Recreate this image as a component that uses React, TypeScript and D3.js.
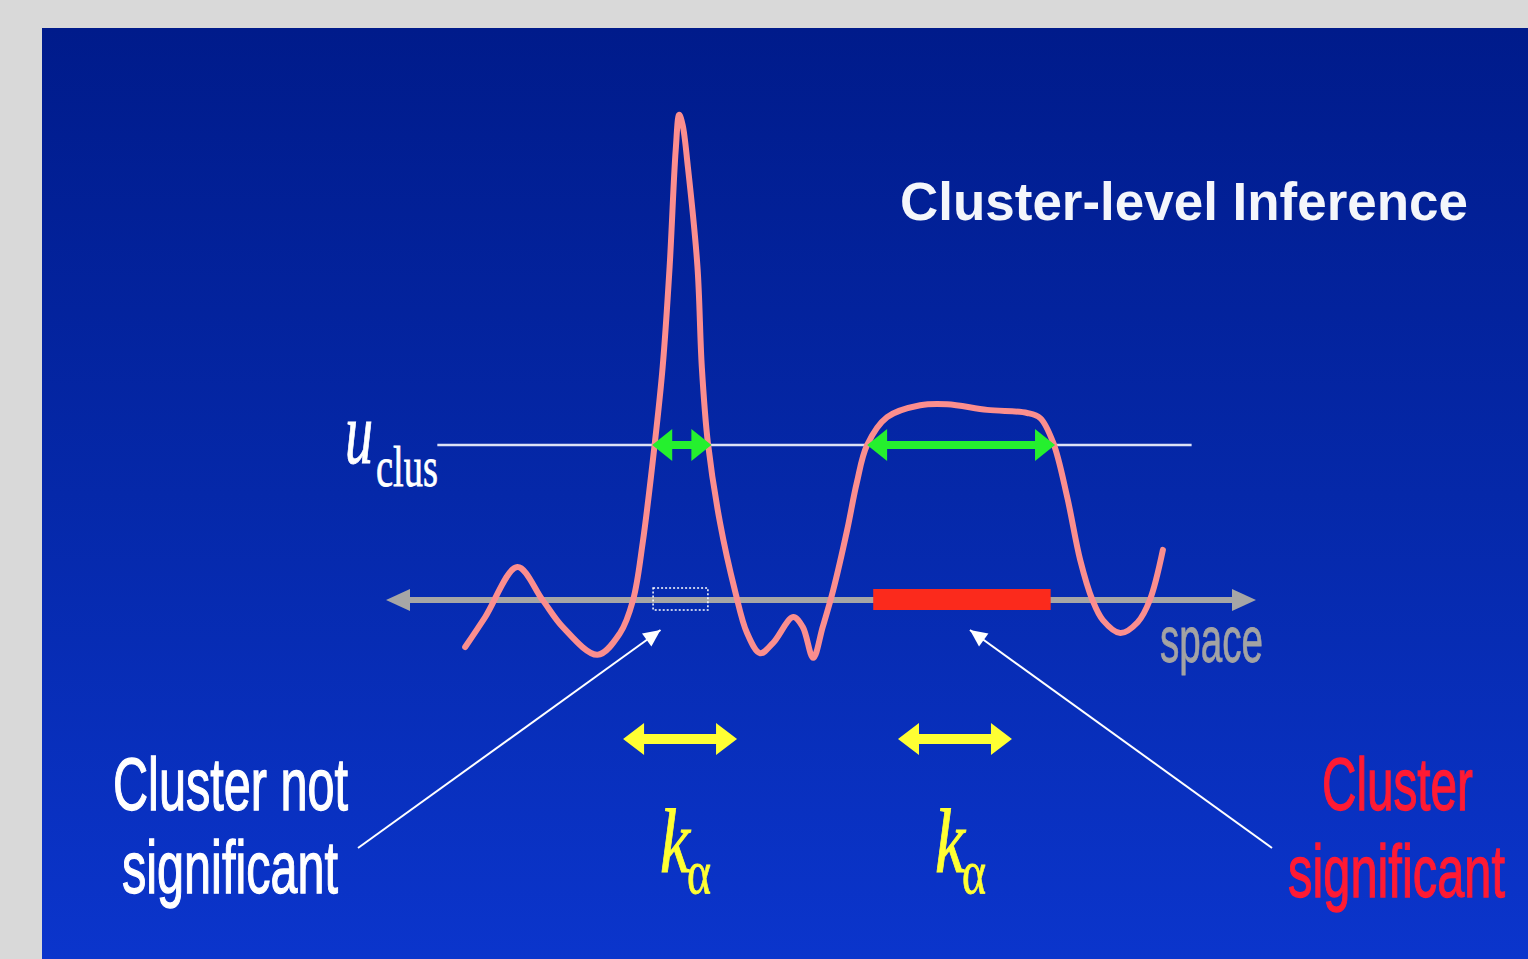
import * as d3 from "d3";

// signal profile along "space" (space units, signal units)
const profileSpace = [9.1, 11.4, 15.1, 18.0, 20.3, 24.3, 26.9, 28.4, 29.5, 30.9, 31.8, 32.6, 33.3, 33.7, 34.1, 34.7, 35.8, 36.3, 37.0, 38.4, 40.1, 41.5, 43.0, 44.5, 46.8, 47.9, 49.1, 50.2, 51.4, 53.0, 54.1, 55.3, 57.6, 61.4, 64.5, 69.1, 73.7, 75.2, 76.7, 78.3, 79.8, 81.2, 82.4, 84.4, 86.4, 87.8, 89.3];
const profileSignal = [-0.91, -0.33, 0.64, 0, -0.52, -1.06, -0.64, 0, 1.1, 3.04, 4.51, 6.45, 8.71, 9.39, 9.19, 8.38, 6.45, 4.51, 3.04, 1.49, 0.19, -0.64, -1.03, -0.83, -0.33, -0.52, -1.12, -0.52, 0.19, 1.35, 2.26, 3.0, 3.54, 3.77, 3.79, 3.68, 3.62, 3.52, 3.04, 1.99, 0.77, 0, -0.39, -0.64, -0.43, 0, 0.97];

const uClus = 3;
const thresholdSpan = [5.9, 92.6];
const clusterStart = [30.6, 55.3];
const clusterEnd = [37.4, 76.9];
const clusterSignificant = [false, true];
const markStart = [30.7, 56.0];
const markEnd = [37.0, 76.4];
const kAlphaCenters = [33.8, 65.4];
const kAlpha = 13.1;
const kAlphaLevel = -2.69;

const W = 1528;
const H = 959;

function doubleArrow(x1: number, x2: number, y: number, t: number, h: number, w: number) {
  const p: [number, number][] = [
    [x1, y], [x1 + h, y - w], [x1 + h, y - t], [x2 - h, y - t], [x2 - h, y - w],
    [x2, y], [x2 - h, y + w], [x2 - h, y + t], [x1 + h, y + t], [x1 + h, y + w],
  ];
  return p.map(d => d.join(",")).join(" ");
}

export default function App() {
  const x = d3.scaleLinear().domain([0, 100]).range([386, 1256]);
  const y = d3.scaleLinear().domain([0, uClus]).range([600, 445]);
  const pts = profileSpace.map((s, i) => [s, profileSignal[i]] as [number, number]);
  const line = d3.line<[number, number]>().x(d => x(d[0])).y(d => y(d[1])).curve(d3.curveCatmullRom.alpha(0.5));
  const y0 = y(0);
  const sans = "'Liberation Sans', Arial, sans-serif";
  const serif = "'Liberation Serif', 'Times New Roman', serif";

  const tipL: [number, number] = [x((markStart[0] + markEnd[0]) / 2) - 20, y0 + 30];
  const tipR: [number, number] = [x((markStart[1] + markEnd[1]) / 2) + 8, y0 + 30];
  const head = (from: [number, number], to: [number, number]) => {
    const a = Math.atan2(to[1] - from[1], to[0] - from[0]);
    const L = 17, w = 8;
    const bx = to[0] - L * Math.cos(a), by = to[1] - L * Math.sin(a);
    return [[to[0], to[1]], [bx + w * Math.sin(a), by - w * Math.cos(a)], [bx - w * Math.sin(a), by + w * Math.cos(a)]]
      .map(d => d.join(",")).join(" ");
  };
  const startL: [number, number] = [358, 848];
  const startR: [number, number] = [1272, 848];

  return (
    <div style={{ position: "fixed", left: 0, top: 0, width: W, height: H }}>
      <svg width={W} height={H} style={{ display: "block" }}>
        <defs>
          <linearGradient id="bg" x1="0" y1="0" x2="0" y2="1">
            <stop offset="0" stopColor="#001b8b" />
            <stop offset="0.5" stopColor="#0528a9" />
            <stop offset="1" stopColor="#0b35cc" />
          </linearGradient>
        </defs>
        <rect width={W} height={H} fill="#d9d9d9" />
        <rect x={42} y={28} width={W - 42} height={H - 28} fill="url(#bg)" />

        <text x={900} y={220} fontFamily={sans} fontWeight="bold" fontSize={53} fill="#f4f6fb" textLength={568} lengthAdjust="spacingAndGlyphs">Cluster-level Inference</text>

        {/* threshold */}
        <line x1={x(thresholdSpan[0])} x2={x(thresholdSpan[1])} y1={y(uClus)} y2={y(uClus)} stroke="#dde2f5" strokeWidth={2.5} />
        <text x={345} y={463} fontFamily={serif} fontStyle="italic" fontSize={88} fill="#fff" stroke="#fff" strokeWidth={1} textLength={28} lengthAdjust="spacingAndGlyphs">u</text>
        <text x={376} y={486} fontFamily={serif} fontSize={57} fill="#fff" stroke="#fff" strokeWidth={0.8} textLength={62} lengthAdjust="spacingAndGlyphs">clus</text>

        {/* space axis */}
        <line x1={x(0) + 22} x2={x(100) - 22} y1={y0} y2={y0} stroke="#a6a6a6" strokeWidth={6} />
        <polygon points={`${x(0)},${y0} ${x(0) + 24},${y0 - 11} ${x(0) + 24},${y0 + 11}`} fill="#a6a6a6" />
        <polygon points={`${x(100)},${y0} ${x(100) - 24},${y0 - 11} ${x(100) - 24},${y0 + 11}`} fill="#a6a6a6" />
        <text x={1160} y={662} fontFamily={sans} fontSize={65} fill="#a3a3a3" stroke="#a3a3a3" strokeWidth={0.8} textLength={103} lengthAdjust="spacingAndGlyphs">space</text>

        {/* cluster markers on axis */}
        {markStart.map((s, i) => clusterSignificant[i] ? (
          <rect key={i} x={x(s)} y={y0 - 11} width={x(markEnd[i]) - x(s)} height={21} fill="#fb2a1c" />
        ) : (
          <rect key={i} x={x(s)} y={y0 - 12} width={x(markEnd[i]) - x(s)} height={22} fill="none" stroke="#ffffff" strokeWidth={1.5} strokeDasharray="2,2" />
        ))}

        {/* signal */}
        <path d={line(pts) ?? ""} fill="none" stroke="#fb8e8e" strokeWidth={6} strokeLinecap="round" strokeLinejoin="round" />

        {/* cluster extents above threshold */}
        {clusterStart.map((s, i) => (
          <polygon key={i} points={doubleArrow(x(s), x(clusterEnd[i]), y(uClus), 4, 20, 16)} fill="#25f02e" />
        ))}

        {/* k alpha */}
        {kAlphaCenters.map((c, i) => (
          <g key={i}>
            <polygon points={doubleArrow(x(c - kAlpha / 2), x(c + kAlpha / 2), y(kAlphaLevel), 5, 21, 16)} fill="#ffff33" />
            <text x={x(c) - 20} y={872} fontFamily={serif} fontStyle="italic" fontSize={92} fill="#ffff33" stroke="#ffff33" strokeWidth={1} textLength={30} lengthAdjust="spacingAndGlyphs">k</text>
            <text x={x(c) + 7} y={893} fontFamily={serif} fontSize={62} fill="#ffff33" stroke="#ffff33" strokeWidth={0.8} textLength={24} lengthAdjust="spacingAndGlyphs">α</text>
          </g>
        ))}

        {/* pointers */}
        <line x1={startL[0]} y1={startL[1]} x2={tipL[0]} y2={tipL[1]} stroke="#fff" strokeWidth={2} />
        <polygon points={head(startL, tipL)} fill="#fff" />
        <line x1={startR[0]} y1={startR[1]} x2={tipR[0]} y2={tipR[1]} stroke="#fff" strokeWidth={2} />
        <polygon points={head(startR, tipR)} fill="#fff" />

        <g fontFamily={sans} fontSize={74} strokeWidth={1.3} lengthAdjust="spacingAndGlyphs">
          <text x={113} y={810} fill="#fff" stroke="#fff" textLength={235} lengthAdjust="spacingAndGlyphs">Cluster not</text>
          <text x={122} y={893} fill="#fff" stroke="#fff" textLength={216} lengthAdjust="spacingAndGlyphs">significant</text>
          <text x={1322} y={810} fill="#ff1a33" stroke="#ff1a33" textLength={151} lengthAdjust="spacingAndGlyphs">Cluster</text>
          <text x={1288} y={897} fill="#ff1a33" stroke="#ff1a33" textLength={217} lengthAdjust="spacingAndGlyphs">significant</text>
        </g>
      </svg>
    </div>
  );
}
